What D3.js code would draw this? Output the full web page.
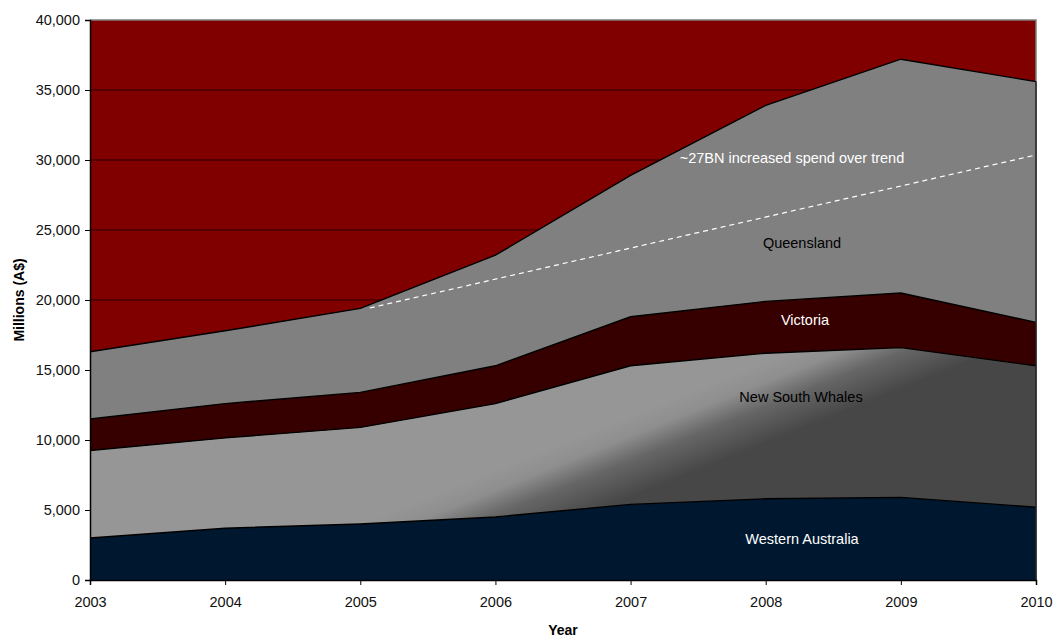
<!DOCTYPE html>
<html>
<head>
<meta charset="utf-8">
<script src="https://cdn.jsdelivr.net/npm/d3@7"></script>
<style>
  html, body { margin: 0; padding: 0; background: #ffffff; }
  svg { display: block; font-family: "Liberation Sans", Arial, sans-serif; }
</style>
</head>
<body>
<svg id="chart" width="1056" height="639"></svg>
<script>
// Annual spend by state, millions of A$
const years = [2003, 2004, 2005, 2006, 2007, 2008, 2009, 2010];
const westernAustralia = [3000, 3700, 4000, 4500, 5400, 5800, 5900, 5200];
const newSouthWales    = [6250, 6450, 6900, 8100, 9900, 10400, 10700, 10100];
const victoria         = [2250, 2450, 2500, 2700, 3500, 3700, 3900, 3100];
const queensland       = [4800, 5200, 6000, 7900, 10100, 14000, 16700, 17200];

const seriesNames = ["Western Australia", "New South Whales", "Victoria", "Queensland"];
const yTicks = [0, 5000, 10000, 15000, 20000, 25000, 30000, 35000, 40000];

// Trend line: start and end points (year, value)
const trendYears = [2005.07, 2010];
const trendValues = [19430, 30360];
const trendLabel = "~27BN increased spend over trend";

const rows = years.map((yr, i) => ({
  year: yr,
  "Western Australia": westernAustralia[i],
  "New South Whales": newSouthWales[i],
  "Victoria": victoria[i],
  "Queensland": queensland[i]
}));

const svg = d3.select("#chart");
const plotLeft = 90, plotRight = 1036, plotTop = 20, plotBottom = 580;

const x = d3.scaleLinear().domain([2003, 2010]).range([plotLeft, plotRight]);
const y = d3.scaleLinear().domain([0, 40000]).range([plotBottom, plotTop]);

// Gradient for New South Whales: light upper-left, dark lower-right
const defs = svg.append("defs");
const grad = defs.append("linearGradient")
  .attr("id", "nswGrad")
  .attr("gradientUnits", "userSpaceOnUse")
  .attr("x1", 658).attr("y1", 405)
  .attr("x2", 686).attr("y2", 475);
grad.append("stop").attr("offset", "0").attr("stop-color", "#969696");
grad.append("stop").attr("offset", "0.25").attr("stop-color", "#8e8e8e");
grad.append("stop").attr("offset", "0.55").attr("stop-color", "#666666");
grad.append("stop").attr("offset", "1").attr("stop-color", "#474747");

const fills = {
  "Western Australia": "#00182f",
  "New South Whales": "url(#nswGrad)",
  "Victoria": "#370000",
  "Queensland": "#808080"
};

// Plot background
svg.append("rect")
  .attr("x", plotLeft).attr("y", plotTop)
  .attr("width", plotRight - plotLeft).attr("height", plotBottom - plotTop)
  .attr("fill", "#800000");

// Horizontal gridlines
svg.append("g").selectAll("line")
  .data(yTicks.filter(t => t > 0 && t < 40000))
  .join("line")
  .attr("x1", plotLeft).attr("x2", plotRight)
  .attr("y1", d => y(d)).attr("y2", d => y(d))
  .attr("stroke", "#2a0000").attr("stroke-width", 1);

// Plot border (top and right)
svg.append("path")
  .attr("d", `M${plotLeft},${y(40000)}H${plotRight}V${plotBottom}`)
  .attr("fill", "none").attr("stroke", "#7f7f7f").attr("stroke-width", 1.5);

// Stacked areas
const stack = d3.stack().keys(seriesNames);
const stacked = stack(rows);

const area = d3.area()
  .x(d => x(d.data.year))
  .y0(d => y(d[0]))
  .y1(d => y(d[1]));

svg.append("g").selectAll("path")
  .data(stacked)
  .join("path")
  .attr("d", area)
  .attr("fill", d => fills[d.key])
  .attr("stroke", "none");

// Black outline along each series' top edge
const topLine = d3.line()
  .x(d => x(d.data.year))
  .y(d => y(d[1]));
svg.append("g").selectAll("path")
  .data(stacked)
  .join("path")
  .attr("d", topLine)
  .attr("fill", "none")
  .attr("stroke", "#000")
  .attr("stroke-width", 1.4);

// Right edge of the stacked areas
const maxTop = stacked[stacked.length - 1][years.length - 1][1];
svg.append("line")
  .attr("x1", x(2010)).attr("x2", x(2010))
  .attr("y1", y(maxTop)).attr("y2", y(0))
  .attr("stroke", "#222").attr("stroke-width", 1.5);

// Trend line
svg.append("line")
  .attr("x1", x(trendYears[0])).attr("y1", y(trendValues[0]))
  .attr("x2", x(trendYears[1])).attr("y2", y(trendValues[1]))
  .attr("stroke", "#ffffff").attr("stroke-width", 1.2)
  .attr("stroke-dasharray", "5,4");

// Axes
const yAxis = d3.axisLeft(y)
  .tickValues(yTicks)
  .tickFormat(d3.format(","))
  .tickSizeOuter(0)
  .tickSize(5)
  .tickPadding(5);
const gy = svg.append("g").attr("transform", `translate(${plotLeft},0)`).call(yAxis);

const xAxis = d3.axisBottom(x)
  .tickValues(years)
  .tickFormat(d3.format("d"))
  .tickSizeOuter(0)
  .tickSize(5)
  .tickPadding(12);
const gx = svg.append("g").attr("transform", `translate(0,${plotBottom})`).call(xAxis);

[gy, gx].forEach(g => {
  g.select(".domain").attr("stroke", "#000").attr("stroke-width", 1.5);
  g.selectAll(".tick line").attr("stroke", "#000");
  g.selectAll(".tick text")
    .attr("fill", "#111")
    .style("font-family", "'Liberation Sans', Arial, sans-serif")
    .style("font-size", "14.5px");
});

// Axis titles
svg.append("text")
  .attr("transform", `translate(24,${(plotTop + plotBottom) / 2}) rotate(-90)`)
  .attr("text-anchor", "middle")
  .style("font-size", "14px").style("font-weight", "bold")
  .text("Millions (A$)");

svg.append("text")
  .attr("x", (plotLeft + plotRight) / 2).attr("y", 635)
  .attr("text-anchor", "middle")
  .style("font-size", "14px").style("font-weight", "bold")
  .text("Year");

// Series labels
const labels = [
  { text: trendLabel, cx: 792, cy: 158, color: "#ffffff" },
  { text: "Queensland", cx: 802, cy: 243, color: "#000000" },
  { text: "Victoria", cx: 805, cy: 320, color: "#ffffff" },
  { text: "New South Whales", cx: 801, cy: 397, color: "#000000" },
  { text: "Western Australia", cx: 802, cy: 539, color: "#ffffff" }
];
svg.append("g").selectAll("text")
  .data(labels)
  .join("text")
  .attr("x", d => d.cx).attr("y", d => d.cy)
  .attr("dy", "0.35em")
  .attr("text-anchor", "middle")
  .attr("fill", d => d.color)
  .style("font-size", "14.5px")
  .text(d => d.text);
</script>
</body>
</html>
